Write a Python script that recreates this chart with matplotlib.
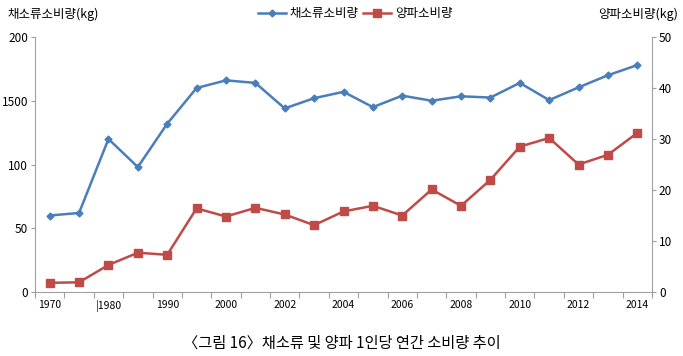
import matplotlib
matplotlib.use('Agg')
import matplotlib.pyplot as plt
import numpy as np

plt.rcParams['font.family'] = ['Noto Sans CJK KR', 'DejaVu Sans']

# data
years = ['1970', '1975', '1980', '1985', '1990', '1995', '2000', '2001', '2002', '2003',
         '2004', '2005', '2006', '2007', '2008', '2009', '2010', '2011', '2012', '2013', '2014']
veg = [60, 62, 120, 98, 132, 160, 166, 164, 144, 152, 157, 145, 154, 150,
       153.5, 152.5, 164, 150.5, 160.5, 170, 178]
onion = [1.8, 1.9, 5.3, 7.7, 7.3, 16.4, 14.8, 16.5, 15.2, 13.1, 15.8, 16.9, 15.0, 20.1,
         16.9, 22.0, 28.5, 30.2, 25.0, 26.9, 31.2]
xlabels = ['1970', '|1980', '1990', '2000', '2002', '2004', '2006', '2008', '2010', '2012', '2014']
left_ticks = [0, 50, 100, 150, 200]
left_ticklabels = ['0', '50', '100', '1500', '200']
right_ticks = [0, 10, 20, 30, 40, 50]

blue = '#4a7ebb'
red = '#be4b48'
grey = '#a0a0a0'

fig = plt.figure(figsize=(6.83, 3.56), dpi=100)
ax = fig.add_axes([35/683, 64/356, 617/683, 255/356])
ax2 = ax.twinx()

x = np.arange(len(years))
l1, = ax.plot(x, veg, '-D', color=blue, lw=1.8, ms=3.5, label='채소류소비량')
l2, = ax2.plot(x, onion, '-s', color=red, lw=1.8, ms=6, label='양파소비량')

ax.set_xlim(-0.5, len(years) - 0.5)
ax.set_ylim(0, 200)
ax2.set_ylim(0, 50)

# x axis: ticks between categories, labels every other category
ax.set_xticks(np.arange(-0.5, len(years), 1))
ax.set_xticklabels([])
ax.set_xticks(x[::2], minor=True)
ax.set_xticklabels(xlabels, minor=True, fontsize=7.5)
ax.tick_params(axis='x', which='major', length=4, color=grey)
ax.tick_params(axis='x', which='minor', length=0, pad=6)

ax.set_yticks(left_ticks)
ax.set_yticklabels(left_ticklabels, fontsize=8.5)
ax2.set_yticks(right_ticks)
ax2.set_yticklabels([str(t) for t in right_ticks], fontsize=8.5)
ax.tick_params(axis='y', length=3, color=grey, pad=2)
ax2.tick_params(axis='y', length=3, color=grey, pad=2)

for a in (ax, ax2):
    a.spines['top'].set_visible(False)
    for s in ('left', 'right', 'bottom'):
        a.spines[s].set_color(grey)
ax.spines['right'].set_visible(False)
ax2.spines['left'].set_visible(False)
ax2.spines['bottom'].set_visible(False)

# axis titles and legend
fig.text(8/683, 1 - 14/356, '채소류소비량(kg)', fontsize=9, ha='left', va='center')
fig.text(678/683, 1 - 14/356, '양파소비량(kg)', fontsize=9, ha='right', va='center')
fig.legend(handles=[l1, l2], loc='center', bbox_to_anchor=(0.52, 1 - 14/356), ncol=2,
           frameon=False, fontsize=9, handlelength=2.2, handletextpad=0.3, columnspacing=0.4)

fig.text(0.5, 1 - 343/356, '〈그림 16〉채소류 및 양파 1인당 연간 소비량 추이', fontsize=11,
         ha='center', va='center')

plt.savefig('out.png', dpi=100)
